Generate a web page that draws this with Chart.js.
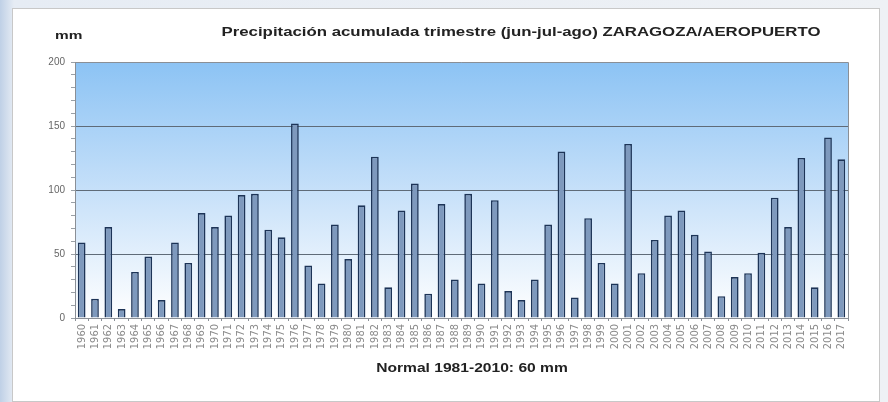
<!DOCTYPE html>
<html>
<head>
<meta charset="utf-8">
<script src="https://cdn.jsdelivr.net/npm/chart.js@4.4.1/dist/chart.umd.min.js"></script>
<style>
    html, body { margin: 0; padding: 0; }
    body {
        width: 888px; height: 402px; overflow: hidden;
        background: linear-gradient(90deg, #bfd0e6 0px, #e6ecf4 14px, #eef1f5 100%);
        position: relative;
    }
    #frame {
        position: absolute; left: 12px; top: 8px; width: 868px; height: 394px;
        background: #fff; border: 1px solid #c8c8c8; box-sizing: border-box;
    }
    #myChart { position: absolute; left: 0; top: 0; }
</style>
</head>
<body>
<div id="frame"></div>
<canvas id="myChart" width="888" height="402"></canvas>
<script>
var years = ['1960', '1961', '1962', '1963', '1964', '1965', '1966', '1967', '1968', '1969',
    '1970', '1971', '1972', '1973', '1974', '1975', '1976', '1977', '1978', '1979',
    '1980', '1981', '1982', '1983', '1984', '1985', '1986', '1987', '1988', '1989',
    '1990', '1991', '1992', '1993', '1994', '1995', '1996', '1997', '1998', '1999',
    '2000', '2001', '2002', '2003', '2004', '2005', '2006', '2007', '2008', '2009',
    '2010', '2011', '2012', '2013', '2014', '2015', '2016', '2017'];

var precip = [59, 15, 71, 7, 36, 48, 14, 59, 43, 82,
    71, 80, 96, 97, 69, 63, 152, 41, 27, 73,
    46, 88, 126, 24, 84, 105, 19, 89, 30, 97,
    27, 92, 21, 14, 30, 73, 130, 16, 78, 43,
    27, 136, 35, 61, 80, 84, 65, 52, 17, 32,
    35, 51, 94, 71, 125, 24, 141, 124];

var yLabels = [0, 50, 100, 150, 200];

var titleText = 'Precipitación acumulada trimestre (jun-jul-ago) ZARAGOZA/AEROPUERTO';
var unitText = 'mm';
var normalText = 'Normal 1981-2010: 60 mm';

// texto estirado en horizontal, como en la imagen original
function wideText(ctx, text, x, y, sx, align) {
    ctx.save();
    ctx.translate(x, y);
    ctx.scale(sx, 1);
    ctx.textAlign = align;
    ctx.fillText(text, 0, 0);
    ctx.restore();
}

// fondo degradado del área de trazado + textos
var decoPlugin = {
    id: 'deco',
    beforeDraw: function (chart) {
        var ctx = chart.ctx;
        var a = chart.chartArea;
        var g = ctx.createLinearGradient(0, a.top, 0, a.bottom);
        g.addColorStop(0, '#8cc3f4');
        g.addColorStop(0.5, '#c6e0f9');
        g.addColorStop(1, '#ffffff');
        ctx.save();
        ctx.fillStyle = g;
        ctx.fillRect(a.left, a.top, a.right - a.left, a.bottom - a.top);
        ctx.restore();
    },
    afterDraw: function (chart) {
        var ctx = chart.ctx;
        var a = chart.chartArea;
        ctx.save();
        ctx.strokeStyle = '#8a8f96';
        ctx.lineWidth = 1;
        ctx.beginPath();
        ctx.moveTo(a.left, a.top + 0.5);
        ctx.lineTo(a.right + 0.5, a.top + 0.5);
        ctx.lineTo(a.right + 0.5, a.bottom);
        ctx.stroke();

        ctx.fillStyle = '#222';
        ctx.textBaseline = 'middle';
        ctx.font = 'bold 11px "Liberation Sans", Arial, sans-serif';
        wideText(ctx, unitText, 55, 36, 1.4, 'left');
        ctx.font = 'bold 12px "Liberation Sans", Arial, sans-serif';
        wideText(ctx, titleText, 521, 33, 1.4, 'center');
        ctx.font = 'bold 13px "Liberation Sans", Arial, sans-serif';
        wideText(ctx, normalText, 472, 368, 1.2, 'center');
        ctx.restore();
    }
};

var ctx = document.getElementById('myChart').getContext('2d');
var myChart = new Chart(ctx, {
    type: 'bar',
    data: {
        labels: years,
        datasets: [{
            label: 'Precipitación',
            data: precip,
            backgroundColor: '#7e99bd',
            borderColor: '#1d3457',
            borderWidth: 1.6,
            barPercentage: 0.58,
            categoryPercentage: 1
        }]
    },
    options: {
        responsive: false,
        animation: false,
        layout: {
            padding: { top: 62, right: 40, left: 0, bottom: 0 }
        },
        plugins: {
            legend: { display: false },
            title: { display: false },
            tooltip: { enabled: false }
        },
        scales: {
            x: {
                afterFit: function (scale) { scale.height = 84; },
                grid: {
                    display: true,
                    drawOnChartArea: false,
                    offset: true,
                    tickLength: 3,
                    tickColor: '#8a8f96'
                },
                border: { color: '#8a8f96' },
                ticks: {
                    minRotation: 90,
                    maxRotation: 90,
                    autoSkip: false,
                    padding: 3,
                    color: '#8a8a8a',
                    font: { size: 11, family: '"DejaVu Sans Condensed", "Liberation Sans Narrow", sans-serif' }
                }
            },
            y: {
                min: 0,
                max: 200,
                afterFit: function (scale) { scale.width = 75; },
                afterBuildTicks: function (scale) {
                    var t = [];
                    for (var v = 0; v <= 200; v += 10) t.push({ value: v });
                    scale.ticks = t;
                },
                grid: {
                    color: function (c) {
                        var v = c.tick ? c.tick.value : 0;
                        return (v > 0 && v < 200 && yLabels.indexOf(v) >= 0) ? '#5f6b78' : 'rgba(0,0,0,0)';
                    },
                    tickColor: '#9aa0a6',
                    tickLength: 4,
                    lineWidth: 1
                },
                border: { color: '#8a8f96' },
                ticks: {
                    autoSkip: false,
                    padding: 6,
                    color: '#666',
                    font: { size: 10, family: '"Liberation Sans", Arial, sans-serif' },
                    callback: function (value) {
                        return yLabels.indexOf(value) >= 0 ? value : '';
                    }
                }
            }
        }
    },
    plugins: [decoPlugin]
});
</script>
</body>
</html>
